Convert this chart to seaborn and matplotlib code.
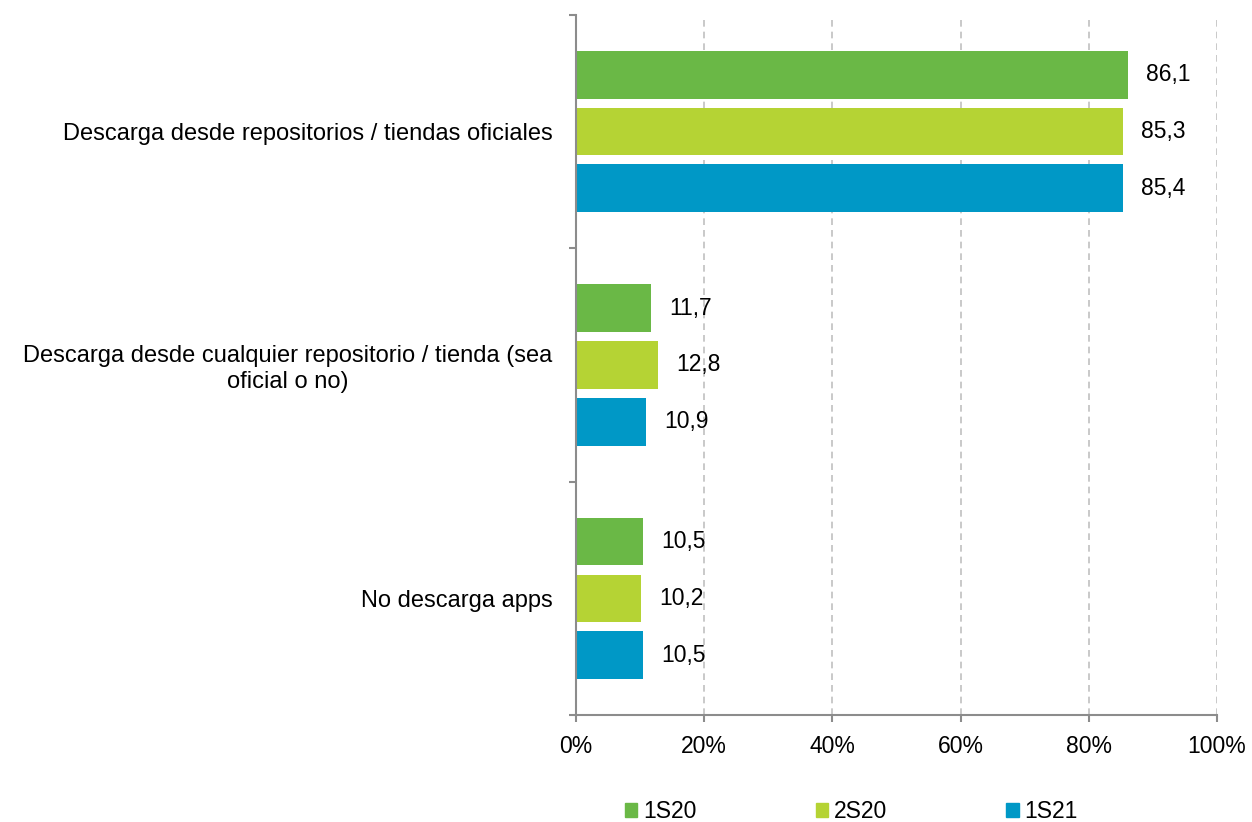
import matplotlib
matplotlib.use("Agg")
import matplotlib.pyplot as plt
import seaborn as sns
import pandas as pd

categories = [
    "Descarga desde repositorios / tiendas oficiales",
    "Descarga desde cualquier repositorio / tienda (sea\noficial o no)",
    "No descarga apps",
]
periods = ["1S20", "2S20", "1S21"]
s1_20 = [86.1, 11.7, 10.5]
s2_20 = [85.3, 12.8, 10.2]
s1_21 = [85.4, 10.9, 10.5]
colors = ["#6AB846", "#B5D334", "#0098C6"]

rows = []
for p, vals in zip(periods, [s1_20, s2_20, s1_21]):
    for c, v in zip(categories, vals):
        rows.append({"cat": c, "periodo": p, "valor": v})
df = pd.DataFrame(rows)

sns.set_style("white")
plt.rcParams["font.family"] = ["Liberation Sans", "DejaVu Sans"]
plt.rcParams["text.color"] = "black"
plt.rcParams["xtick.color"] = "black"
plt.rcParams["ytick.color"] = "black"

fig = plt.figure(figsize=(12.52, 8.22), dpi=100)
ax = fig.add_axes([0.46, 0.130, 0.512, 0.852])

sns.barplot(data=df, y="cat", x="valor", hue="periodo", order=categories,
            hue_order=periods, palette=colors, orient="h", width=0.73,
            gap=0.16, saturation=1, ax=ax, legend=False, linewidth=0)

for cont in ax.containers:
    ax.bar_label(cont, labels=[f"{v:.1f}".replace(".", ",") for v in cont.datavalues],
                 padding=13, fontsize=16.5)

ax.set_xlim(0, 100)
ax.set_ylim(2.5, -0.5)
ax.set_xticks(range(0, 101, 20))
ax.set_xticklabels([f"{t}%" for t in range(0, 101, 20)], fontsize=16.5)
ax.set_xlabel("")
ax.set_ylabel("")

# category boundaries get tick marks, labels sit at the centres
ax.set_yticks([-0.5, 0.5, 1.5, 2.5])
ax.set_yticklabels([])
ax.set_yticks([0, 1, 2], minor=True)
ax.set_yticklabels(categories, minor=True, fontsize=17)
for lab in ax.get_yticklabels(minor=True):
    lab.set_multialignment("center")
ax.tick_params(axis="y", which="minor", left=False, pad=15)
ax.tick_params(axis="y", which="major", left=True, length=5, width=1.5,
               color="#8c8c8c", direction="out")
ax.tick_params(axis="x", bottom=True, length=5, width=1.5, color="#8c8c8c",
               direction="out", pad=9)

ax.xaxis.grid(True, linestyle=(0, (4, 3)), color="#c0c0c0", linewidth=1.2)
ax.set_axisbelow(True)
for s in ["top", "right"]:
    ax.spines[s].set_visible(False)
for s in ["left", "bottom"]:
    ax.spines[s].set_color("#8c8c8c")
    ax.spines[s].set_linewidth(1.5)

handles = [plt.Rectangle((0, 0), 1, 1, color=c) for c in colors]
fig.legend(handles, periods, loc="center", bbox_to_anchor=(0.68, 0.013),
           ncol=3, frameon=False, fontsize=16.5, handlelength=0.55,
           handleheight=0.55, handletextpad=0.25, columnspacing=5.2)

fig.savefig("out.png", dpi=100)
